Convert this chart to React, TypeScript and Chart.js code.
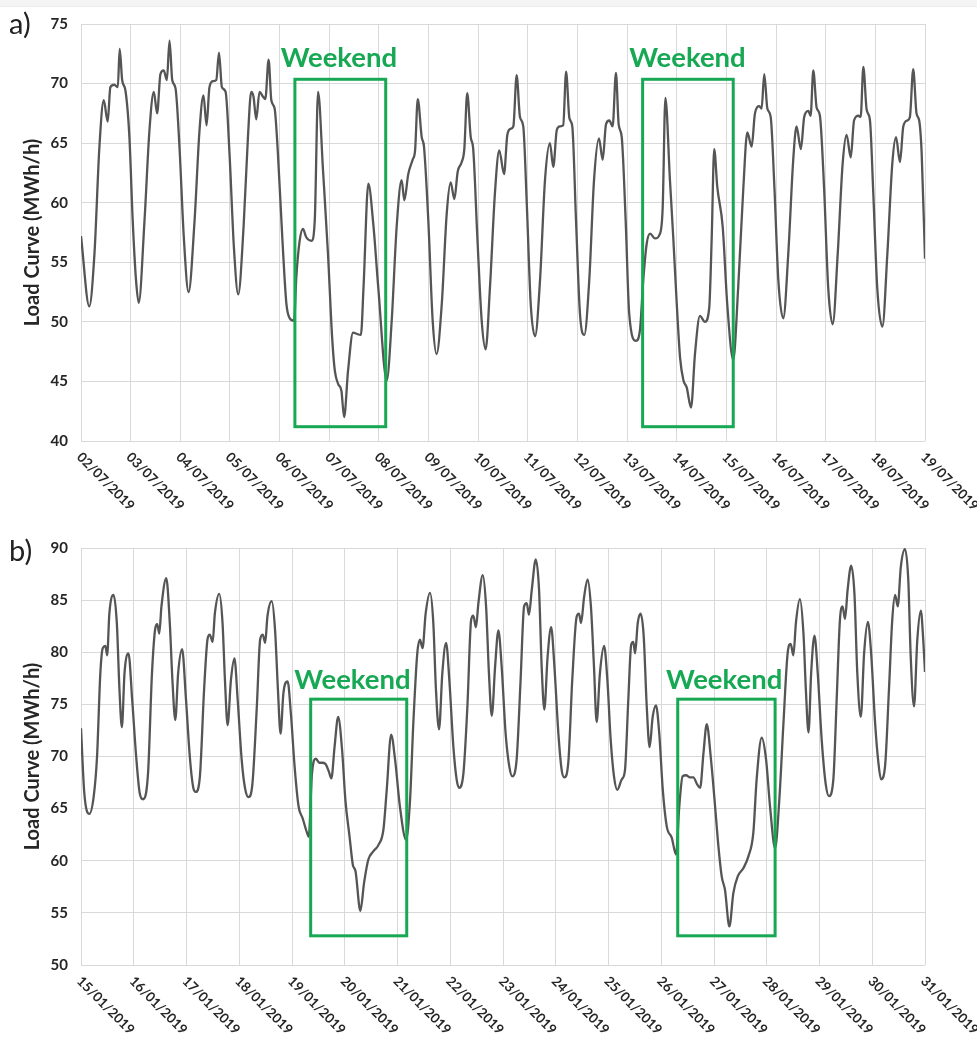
import React, { useEffect, useRef } from 'react';
import { Chart, registerables } from 'chart.js';

Chart.register(...registerables);

// ---------- Data ----------
const datesA = [
  '02/07/2019', '03/07/2019', '04/07/2019', '05/07/2019', '06/07/2019', '07/07/2019',
  '08/07/2019', '09/07/2019', '10/07/2019', '11/07/2019', '12/07/2019', '13/07/2019',
  '14/07/2019', '15/07/2019', '16/07/2019', '17/07/2019', '18/07/2019', '19/07/2019',
];

const datesB = [
  '15/01/2019', '16/01/2019', '17/01/2019', '18/01/2019', '19/01/2019', '20/01/2019',
  '21/01/2019', '22/01/2019', '23/01/2019', '24/01/2019', '25/01/2019', '26/01/2019',
  '27/01/2019', '28/01/2019', '29/01/2019', '30/01/2019', '31/01/2019',
];

// hours since the first date label (00:00)
const hoursA = [
  0, 4, 6.5, 8.9, 11, 12.9, 14.2, 16.1, 17.8, 18.7, 19.9, 21.5, 23.4, 25, 26.6, 27.9,
  30.7, 33.1, 35.2, 36.8, 38.4, 40, 41.5, 42.8, 44.1, 45.7, 47.6, 49.7, 52,
  54.9, 57.3, 59.2, 60.7, 62.1, 63.8, 65.4, 66.7, 68.1, 69.9, 71.8, 73.9, 76,
  78.6, 80.7, 82.3, 83.4, 84.7, 86.3, 88, 89.1, 90.7, 92, 93.6, 95.2, 97.3, 99.3, 100.9, 103,
  104.1, 105.7, 107.3, 108.9, 111.4, 113, 114.6, 117, 119.4, 121.4, 122.7, 124.3, 125.9, 127.2,
  129.1, 131.5, 133.2, 135.3, 136.6, 138.9, 141.3, 143.7, 147.8,
  150.2, 152.6, 155, 156.3, 158.2, 160.3, 161.5, 162.8, 164.7, 165.8, 167.9, 170, 171.9,
  174.4, 176.8, 178.7, 180.5, 182.1, 184, 185.3, 186.7, 188.4, 189.6, 191.6, 193.7, 195.6,
  197.7, 200.1, 202.2, 204.5, 206.1, 207.7, 209, 210.6, 212.2, 213.8, 215.5, 217.4, 219.5,
  221.9, 224.3, 226.7, 228.3, 230, 231.5, 233.1, 234.5, 236.1, 237.5, 239.3, 241.2, 243.3,
  245.7, 248, 250.4, 252.2, 253.8, 255.4, 257, 258.6, 259.9, 261.4, 263.3, 265, 268.3,
  270.2, 271.8, 273.5, 275.1, 277.5, 279.9, 281.2, 282.5, 284.7, 286.3, 288, 289.6, 291.2,
  292.8, 294.9, 296.8, 299.2, 301.6, 303.7, 304.9, 306.1, 307.6, 310.2, 312.4, 315.3,
  317.7, 320.2, 322.1, 324.2, 325.8, 327.9, 329, 330.3, 331.8, 333.4, 335.2, 337.1, 339.5,
  341.9, 344.3, 345.9, 348, 349.6, 351.6, 352.7, 354, 355.6, 357.2, 359.2, 361.2, 363.4,
  365.8, 368.2, 370.1, 372.1, 373.7, 375.8, 376.9, 378.2, 379.8, 381.4, 383, 384.9, 387.4,
  389.8, 392.2, 394, 395.9, 397.5, 399.4, 400.7, 402.3, 403.9, 405.2, 406.4, 408,
];

const loadA = [
  57.2, 51.3, 55.7, 64.7, 68.6, 66.8, 69.7, 69.9, 69.7, 72.9, 70.3, 69.4, 65.5, 58.5, 53.5, 51.6,
  58.5, 66.1, 69.3, 67.5, 70.8, 71.1, 70.3, 73.6, 70.3, 69.6, 64.7, 57.1, 52.5,
  58.5, 66.1, 69, 66.5, 69.7, 70.2, 70.3, 72.6, 69.7, 69.3, 64.1, 56.3, 52.3,
  58, 65.5, 69.3, 68.9, 67, 69.3, 68.9, 68.7, 72, 68.6, 67.9, 64.1, 57.1, 51.5, 50.3, 50.1,
  53.8, 56.8, 57.8, 57.1, 56.8, 58.5, 69.3, 62.7, 55.7, 48.7, 45.9, 44.8, 44.2, 42,
  45.9, 49.1, 49, 48.9, 53, 61.6, 58.2, 52.9, 45.1,
  50.1, 58, 61.9, 60.2, 62.4, 63.6, 64.4, 68.7, 65.5, 64.7, 58.5, 50.1, 47.3,
  51.5, 59.1, 61.7, 60.3, 62.6, 63.4, 64.5, 69.2, 65.5, 64.5, 57.1, 50.1, 47.7,
  52.9, 60.8, 64.4, 62.4, 65.7, 66.2, 66.4, 70.7, 67.2, 66.4, 59.9, 51.5, 48.8,
  53.5, 61.9, 65, 63, 66.1, 66.4, 66.5, 71, 67.1, 66.4, 58.5, 50.7, 48.9,
  53.5, 61.9, 65.4, 63.6, 66.6, 66.9, 66.4, 70.9, 66.6, 65.5, 58.5, 50.7, 48.4,
  49.3, 53.5, 56.6, 57.4, 57, 57.4, 59.6, 68.8, 61.9, 57.1, 51.5, 47, 45.1,
  44.5, 42.8, 47.3, 50.5, 50, 51.2, 57.1, 64.5, 61.3, 58, 51.5, 46.8,
  52.9, 61.3, 65.9, 64.7, 67.5, 68.1, 67.9, 70.8, 67.9, 67.2, 61.3, 53.5, 50.3,
  55.7, 63.6, 66.4, 64.5, 67.2, 67.7, 67.3, 71.1, 68, 67.3, 61.3, 52.9, 49.8,
  55.7, 63.3, 65.7, 63.8, 66.9, 67.3, 67.2, 71.4, 67.8, 66.9, 60.8, 52.9, 49.6,
  55.7, 63.3, 65.5, 63.4, 66.4, 66.9, 67.2, 71.2, 67.5, 66.9, 64.1, 55.3,
];

const hoursB = [
  0, 1.5, 3.8, 5.8, 7.3, 8.8, 9.9, 11.1, 11.9, 12.9, 14.8, 16.3, 17.5, 18.6, 19.8, 21.6, 23.3, 25.1, 26.7, 28.2, 30.5,
  32.3, 33.8, 34.7, 35.6, 36.6, 38.8, 40.4, 41.6, 42.9, 44.2, 46, 47.7, 49.5, 51, 52.2, 54.1,
  56, 57.6, 58.6, 59.9, 60.9, 62.9, 64.4, 65.5, 66.7, 68.2, 69.8, 71.3, 73.1, 74.6, 76.2, 78,
  80, 81.5, 82.7, 83.8, 84.8, 86.8, 88.3, 89.6, 90.8, 92.1, 94, 95.5, 97.2, 99, 100.8, 102.8, 103.6,
  105.1, 106.9, 108.4, 109.7, 111.2, 112.7, 113.9, 115.4, 117, 118.8, 120.3, 122.2, 123.7, 124.9,
  127.1, 128.8, 130.7, 133, 135.3, 137.6, 139.1, 141.1, 142.9, 145.1, 147.9,
  149.7, 151.2, 153, 154.2, 155.4, 156.8, 158.8, 160.3, 161.5, 162.9, 164.4, 166.1, 167.6, 169.4, 170.9, 172, 174,
  175.8, 177.5, 178.5, 179.7, 180.8, 182.8, 184.3, 185.6, 186.9, 188.4, 189.9, 191.4, 193.2, 194.9, 196.2, 198.2,
  200, 201.6, 202.8, 203.8, 205.1, 206.9, 208.4, 209.6, 210.8, 212.3, 213.9, 215.4, 217.2, 218.7, 219.9, 221.7,
  223.5, 225.5, 226.6, 227.5, 228.9, 230.5, 232, 233.4, 234.6, 236.1, 238, 239.5, 241, 242.5, 244, 246, 247.5,
  249, 250.3, 251.3, 252.1, 253.3, 254.6, 256, 257.4, 258.7, 260.1, 261.6, 263.1, 264.7, 266.5, 268.8, 270.7,
  272.2, 273.7, 275.3, 277.1, 278.6, 280.4, 281.7, 283.2, 284.7, 286.5, 288.5, 290, 291.5, 293, 295,
  296.8, 298.8, 301.4, 303.6, 305.9, 307.4, 309.7, 311.7, 313.5, 315.8,
  317.7, 319.6, 321.5, 322.9, 324.1, 325.3, 327.1, 328.7, 329.8, 331, 332.2, 333.7, 335.2, 337, 338.8, 340.3, 342.3,
  343.8, 345.3, 346.5, 347.6, 348.8, 350.4, 351.9, 353.2, 354.8, 356.3, 358, 359.5, 361.3, 362.8, 364, 365.8,
  367.6, 369.1, 370.4, 371.6, 373, 374.9, 376.4, 377.5, 379, 380.5, 382.1, 383.2, 384,
];

const loadB = [
  72.7, 66.5, 64.5, 66.2, 70, 78, 80.4, 80.6, 79.7, 83.7, 85.5, 82.8, 76.4, 72.8, 78, 79.9, 75.4, 70, 66.5, 65.9, 68.4,
  78, 82.3, 82.7, 81.8, 84.4, 87.1, 82.8, 77.3, 73.5, 78, 80.3, 75.7, 70, 67.1, 66.6, 68.1,
  76.4, 81.3, 81.7, 81, 83.7, 85.6, 82.8, 77.3, 73, 77.3, 79.4, 75.4, 69.7, 67, 66.1, 67.4,
  74.8, 81.2, 81.7, 80.9, 83.4, 84.9, 82.1, 76.4, 72.2, 76.1, 77.2, 74.1, 69, 65.2, 64.1, 62.7, 62.3,
  68.4, 69.8, 69.4, 69.4, 69.3, 68.6, 67.9, 71, 73.8, 70.6, 65.8, 62.3, 59.6, 59,
  55.2, 57.9, 60.1, 60.9, 61.5, 63, 66.8, 72.1, 69.7, 65.2, 62,
  65.8, 73.2, 79.9, 81.2, 80.4, 83.7, 85.7, 82.8, 76.4, 72.6, 78, 80.9, 77.3, 71, 67.8, 67, 68.4,
  74.8, 83.1, 83.5, 82.4, 84.7, 87.4, 84.4, 78, 73.9, 78.6, 82.1, 78.6, 72.2, 69, 68.1, 69.7,
  77.3, 84.4, 84.7, 83.6, 86, 88.9, 86, 78.6, 74.5, 79.6, 82.4, 78.6, 72.2, 68.7, 68, 69.4,
  77.3, 83.4, 83.7, 82.8, 85.3, 87, 84.4, 78.6, 73.3, 78, 80.6, 77.3, 71.6, 68.1, 66.8, 67.8, 68.7,
  75.4, 80.7, 81, 79.9, 82.8, 83.7, 81.6, 74.8, 70.9, 73.8, 74.9, 72.2, 66.8, 63.3, 62.2, 60.6,
  65.2, 68.1, 68.2, 68, 68, 67.3, 67, 70.3, 73.1, 70, 65.2, 61.4, 58.5, 57.2, 53.7,
  56.9, 58.5, 59.3, 60.4, 62.7, 67.8, 71.8, 69.7, 65.2, 61.2,
  65.8, 73.2, 79.9, 80.8, 79.7, 82.9, 85.1, 81.8, 76.4, 72.3, 78, 81.6, 78, 71.6, 67.4, 66.2, 67.8,
  75.4, 83.1, 84.4, 83.2, 86, 88.3, 85.6, 78, 73.8, 79.9, 82.9, 79.9, 73.2, 69.4, 67.8, 69,
  76.4, 83.1, 85.5, 84.4, 88.2, 89.9, 86.9, 79.6, 74.8, 81.2, 84, 81.2, 78.1,
];

// weekend windows (hours) and the value range they enclose
const weekendHoursA = [[103.4, 147.3], [271.5, 315.3]];
const weekendValuesA = [41.2, 70.36];
const weekendLabelA = [[124.7, 71.4], [293.2, 71.4]];

const weekendHoursB = [[104.5, 148.2], [271.5, 315.8]];
const weekendValuesB = [52.8, 75.5];
const weekendLabelB = [[123.5, 76.5], [292.6, 76.5]];

const yTicksA = [40, 75, 5];
const yTicksB = [50, 90, 5];

// ---------- Styling ----------
const GREEN = '#17a853';
const LINE = '#555555';
const GRID = '#d9d9d9';
const TEXT = '#262626';
const FONT = 'Lato, "Open Sans", sans-serif';

type PanelProps = {
  letter: string;
  hours: number[];
  load: number[];
  dates: string[];
  yRange: number[];
  boxes: number[][];
  boxValues: number[];
  labels: number[][];
  height: number;
  padTop: number;
  xAxisHeight: number;
  letterY: number;
};

function Panel(p: PanelProps) {
  const ref = useRef<HTMLCanvasElement | null>(null);
  useEffect(() => {
    if (!ref.current) return;
    const points = p.hours.map((h, i) => ({ x: h, y: p.load[i] }));
    const maxH = (p.dates.length - 1) * 24;
    const overlay = {
      id: 'overlay' + p.letter,
      afterDatasetsDraw(chart: any) {
        const { ctx, scales } = chart;
        const x = scales.x;
        const y = scales.y;
        ctx.save();
        ctx.strokeStyle = GREEN;
        ctx.lineWidth = 3;
        p.boxes.forEach(([a, b]) => {
          const l = x.getPixelForValue(a);
          const r = x.getPixelForValue(b);
          const t = y.getPixelForValue(p.boxValues[1]);
          const bt = y.getPixelForValue(p.boxValues[0]);
          ctx.strokeRect(l, t, r - l, bt - t);
        });
        ctx.fillStyle = GREEN;
        ctx.font = `bold 27.5px ${FONT}`;
        ctx.textAlign = 'center';
        ctx.textBaseline = 'alphabetic';
        p.labels.forEach(([lx, ly]) => {
          ctx.fillText('Weekend', x.getPixelForValue(lx), y.getPixelForValue(ly));
        });
        ctx.restore();
      },
      afterDraw(chart: any) {
        const { ctx, chartArea, scales } = chart;
        const x = scales.x;
        ctx.save();
        ctx.fillStyle = TEXT;
        ctx.font = `bold 13.5px ${FONT}`;
        ctx.textAlign = 'left';
        ctx.textBaseline = 'middle';
        p.dates.forEach((d, i) => {
          const px = x.getPixelForValue(i * 24);
          ctx.save();
          ctx.translate(px - 2, chartArea.bottom + 14);
          ctx.rotate(Math.PI / 4);
          ctx.fillText(d, 0, 0);
          ctx.restore();
        });
        ctx.fillStyle = '#222';
        ctx.font = `29px ${FONT}`;
        ctx.textAlign = 'left';
        ctx.textBaseline = 'alphabetic';
        ctx.fillText(p.letter, 9, p.letterY);
        ctx.restore();
      },
    };
    const chart = new Chart(ref.current, {
      type: 'line',
      data: {
        datasets: [
          {
            data: points,
            borderColor: LINE,
            borderWidth: 2.3,
            pointRadius: 0,
            fill: false,
            cubicInterpolationMode: 'monotone',
          },
        ],
      },
      options: {
        animation: false,
        responsive: false,
        maintainAspectRatio: false,
        events: [],
        layout: { padding: { left: 0, right: 52, top: p.padTop, bottom: 0 } },
        plugins: { legend: { display: false }, tooltip: { enabled: false } },
        scales: {
          x: {
            type: 'linear',
            min: 0,
            max: maxH,
            afterBuildTicks: (s: any) => {
              s.ticks = p.dates.map((_, i) => ({ value: i * 24 }));
            },
            afterFit: (s: any) => {
              s.height = p.xAxisHeight;
            },
            ticks: { display: false },
            grid: { color: GRID, lineWidth: 1, drawTicks: false },
            border: { display: false },
          },
          y: {
            min: p.yRange[0],
            max: p.yRange[1],
            afterFit: (s: any) => {
              s.width = 81;
            },
            ticks: {
              stepSize: p.yRange[2],
              padding: 13,
              color: TEXT,
              font: { family: FONT, size: 15, weight: 'bold' },
            },
            grid: { color: GRID, lineWidth: 1, drawTicks: false },
            border: { display: false },
            title: {
              display: true,
              text: 'Load Curve (MWh/h)',
              color: TEXT,
              font: { family: FONT, size: 20, weight: 'bold' },
              padding: { top: 21, bottom: 0 },
            },
          },
        },
      },
      plugins: [overlay],
    } as any);
    return () => chart.destroy();
  }, []);
  return <canvas ref={ref} width={977} height={p.height} style={{ display: 'block', width: 977, height: p.height }} />;
}

export default function App() {
  return (
    <div style={{ position: 'absolute', left: 0, top: 0, width: 977, height: 1037, background: '#fff', overflow: 'hidden' }}>
      <div style={{ height: 6, background: '#f4f4f4', borderBottom: '1px solid #ececec', position: 'absolute', left: 0, top: 0, width: 977 }} />
      <Panel
        letter="a)"
        hours={hoursA}
        load={loadA}
        dates={datesA}
        yRange={yTicksA}
        boxes={weekendHoursA}
        boxValues={weekendValuesA}
        labels={weekendLabelA}
        height={520}
        padTop={24}
        xAxisHeight={79}
        letterY={34}
      />
      <Panel
        letter="b)"
        hours={hoursB}
        load={loadB}
        dates={datesB}
        yRange={yTicksB}
        boxes={weekendHoursB}
        boxValues={weekendValuesB}
        labels={weekendLabelB}
        height={517}
        padTop={28}
        xAxisHeight={72}
        letterY={41}
      />
    </div>
  );
}
